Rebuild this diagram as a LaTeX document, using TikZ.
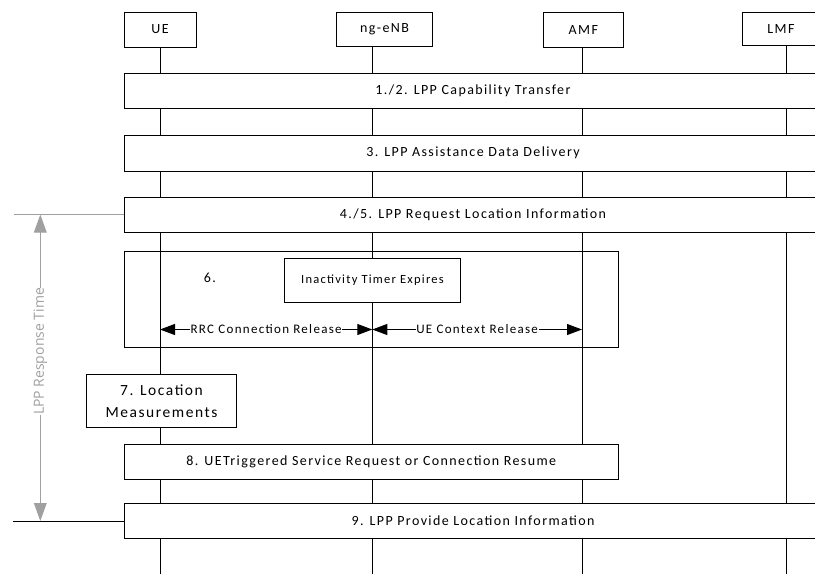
\documentclass[tikz,border=0pt]{standalone}
\usepackage{fontspec}
\setmainfont{Carlito}[LetterSpace=10]
\newfontfamily\rtfont{Open Sans}
\usetikzlibrary{arrows.meta}
\definecolor{rtgray}{HTML}{A0A0A0}
\tikzset{
  every picture/.style={x=1pt,y=-1pt},
  hdr/.style={draw=black, line width=1pt, fill=white, inner sep=0pt, font=\fontsize{14}{16}\selectfont},
  bigbox/.style={draw=black, line width=1pt, fill=white, inner sep=0pt, anchor=north west, font=\fontsize{14}{16}\selectfont},
  life/.style={draw=black, line width=1pt},
  dbl/.style={line width=1pt, {Triangle[length=15pt,width=11pt]}-{Triangle[length=15pt,width=11pt]}},
  lbl/.style={fill=white, inner sep=0.8pt, font=\fontsize{13}{15}\selectfont},
}
\begin{document}
\begin{tikzpicture}
\useasboundingbox (0,0) rectangle (815,574);
\clip (0,0) rectangle (815,574);
% headers
\node[hdr, minimum width=72pt, minimum height=35pt] (ue) at (160,29.5) {UE};
\node[hdr, minimum width=95.5pt, minimum height=34.5pt] (enb) at (384.5,29.7) {ng-eNB};
\node[hdr, minimum width=80pt, minimum height=34.5pt] (amf) at (583.3,30) {AMF};
\node[hdr, minimum width=78pt, minimum height=33pt] (lmf) at (781,29.3) {LMF};
% lifelines
\coordinate (lUEt) at (160,47);
\coordinate (lUEb) at (160,574);
\coordinate (lENBt) at (372.3,47);
\coordinate (lENBb) at (372.3,574);
\coordinate (lAMFt) at (582,47);
\coordinate (lAMFb) at (582,574);
\coordinate (lLMFt) at (786.7,46);
\coordinate (lLMFb) at (786.7,574);
\draw[life] (lUEt) -- (lUEb);
\draw[life] (lENBt) -- (lENBb);
\draw[life] (lAMFt) -- (lAMFb);
\draw[life] (lLMFt) -- (lLMFb);
% steps
\node[bigbox, minimum width=697pt, minimum height=35.5pt] (s12) at (124,72.8) {1./2. LPP Capability Transfer};
\node[bigbox, minimum width=697pt, minimum height=35.5pt] (s3) at (124,135) {3. LPP Assistance Data Delivery};
\node[bigbox, minimum width=697pt, minimum height=35.5pt] (s45) at (124,196.7) {4./5. LPP Request Location Information};
\node[draw=black, line width=1pt, inner sep=0pt, anchor=north west, minimum width=493.5pt, minimum height=96.6pt] (s6) at (124,250.7) {};
\node[font=\fontsize{14}{16}\selectfont, inner sep=0pt] (n6) at (210,278) {6.};
\node[draw=black, line width=1pt, fill=white, inner sep=0pt, anchor=north west, minimum width=176pt, minimum height=43.7pt, font=\fontsize{12.5}{15}\selectfont] (timer) at (284,258) {Inactivity Timer Expires};
\coordinate (a1) at (160,329.5);
\coordinate (a2) at (372.3,329.5);
\coordinate (a3) at (582,329.5);
\draw[dbl] (a1) -- node[lbl] {RRC Connection Release} (a2);
\draw[dbl] (a2) -- node[lbl] {UE Context Release} (a3);
\node[bigbox, minimum width=150pt, minimum height=52.7pt, align=center, font=\fontsize{15.5}{22}\selectfont] (s7) at (86,374) {7. Location\\Measurements};
\node[bigbox, minimum width=493.5pt, minimum height=35.3pt] (s8) at (124,444) {8. UETriggered Service Request or Connection Resume};
\node[bigbox, minimum width=697pt, minimum height=35pt] (s9) at (124,503) {9. LPP Provide Location Information};
% response time
\coordinate (gTL) at (14,214);
\coordinate (bBL) at (13,521.5);
\draw[rtgray, line width=1pt] (gTL) -- (s45.west |- gTL);
\draw[black, line width=1pt] (bBL) -- (s9.west |- bBL);
\coordinate (rTop) at (40.3,214.5);
\coordinate (rBot) at (40.3,521);
\draw[rtgray, line width=1pt, {Triangle[length=18pt,width=12.7pt]}-{Triangle[length=18pt,width=12.7pt]}] (rBot) -- node[pos=0.553, rotate=90, fill=white, inner sep=0pt, text=rtgray, font=\rtfont\fontsize{14}{15}\selectfont] (rt) {LPP Response Time} (rTop);
\end{tikzpicture}
\end{document}
